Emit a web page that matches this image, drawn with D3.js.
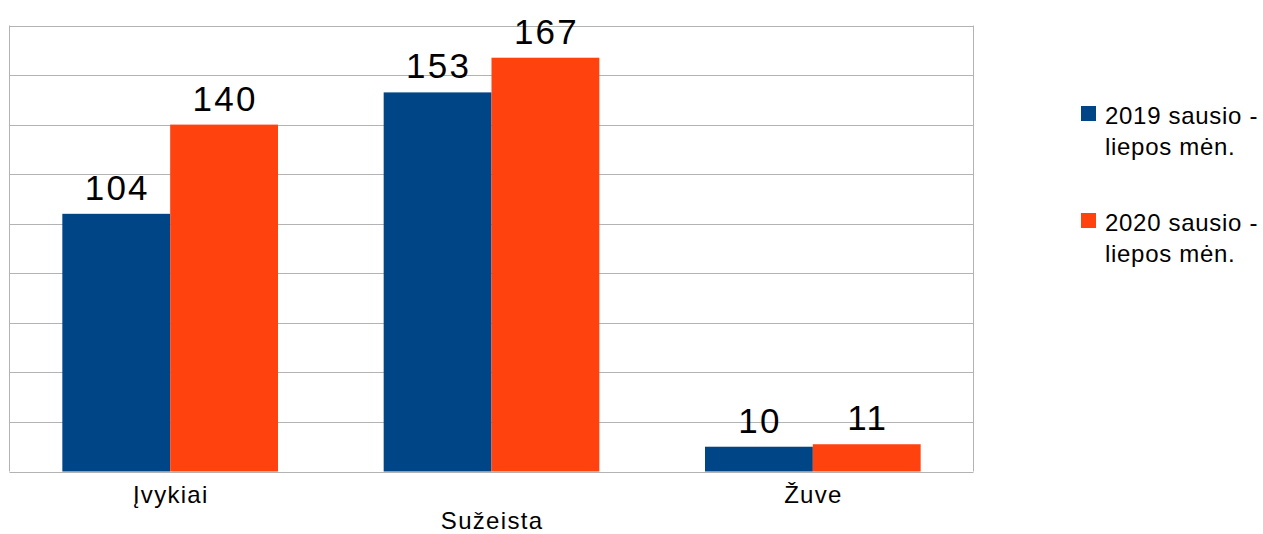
<!DOCTYPE html>
<html lang="lt">
<head>
<meta charset="UTF-8">
<title>Įvykiai 2019–2020</title>
<script src="https://d3js.org/d3.v7.min.js"></script>
<style>
  body { margin: 0; background: #fff; }
  svg { display: block; font-family: "Liberation Sans", Arial, sans-serif; }
</style>
</head>
<body>
<svg width="1263" height="534"></svg>
<script>
// duomenys
const categories = ['Įvykiai', 'Sužeista', 'Žuve'];
const seriesNames = [['2019 sausio -', 'liepos mėn.'], ['2020 sausio -', 'liepos mėn.']];
const values2019 = [104, 153, 10];
const values2020 = [140, 167, 11];
const yTicks = [0, 20, 40, 60, 80, 100, 120, 140, 160, 180];

const colors = ['#004586', '#ff420e'];
const series = [values2019, values2020];

const svg = d3.select('svg');
const plot = { left: 9.5, right: 973.5, top: 25.5, bottom: 471.5 };

const x0 = d3.scaleBand()
    .domain(categories)
    .range([plot.left, plot.right])
    .padding(0);

const x1 = d3.scaleBand()
    .domain([0, 1])
    .range([0, x0.bandwidth()])
    .paddingInner(0)
    .paddingOuter(0.49);

const y = d3.scaleLinear()
    .domain([0, 180])
    .range([plot.bottom, plot.top]);

// grille
svg.append('g')
    .selectAll('line')
    .data(yTicks)
    .enter().append('line')
    .attr('x1', plot.left)
    .attr('x2', plot.right)
    .attr('y1', d => Math.round(y(d)) + 0.5)
    .attr('y2', d => Math.round(y(d)) + 0.5)
    .attr('stroke', '#b3b3b3')
    .attr('stroke-width', 1);

// bordures gauche / droite
svg.append('line')
    .attr('x1', plot.left).attr('x2', plot.left)
    .attr('y1', plot.top).attr('y2', plot.bottom)
    .attr('stroke', '#b3b3b3');
svg.append('line')
    .attr('x1', plot.right).attr('x2', plot.right)
    .attr('y1', plot.top).attr('y2', plot.bottom)
    .attr('stroke', '#b3b3b3');

// barres
const groups = svg.selectAll('.cat')
    .data(categories)
    .enter().append('g')
    .attr('class', 'cat')
    .attr('transform', d => `translate(${x0(d)},0)`);

groups.selectAll('rect')
    .data((d, i) => series.map((s, k) => ({ k, v: s[i] })))
    .enter().append('rect')
    .attr('x', d => x1(d.k))
    .attr('y', d => y(d.v))
    .attr('width', x1.bandwidth())
    .attr('height', d => y(0) - y(d.v))
    .attr('fill', d => colors[d.k]);

groups.selectAll('text.val')
    .data((d, i) => series.map((s, k) => ({ k, v: s[i] })))
    .enter().append('text')
    .attr('class', 'val')
    .attr('x', d => x1(d.k) + x1.bandwidth() / 2 + 1)
    .attr('y', d => y(d.v) - 14)
    .attr('text-anchor', 'middle')
    .attr('font-size', 35)
    .attr('letter-spacing', 2.2)
    .attr('fill', '#000')
    .text(d => d.v);

// axe x (étiquettes décalées)
svg.append('g')
    .selectAll('text')
    .data(categories)
    .enter().append('text')
    .attr('x', d => x0(d) + x0.bandwidth() / 2 + 0.6)
    .attr('y', (d, i) => i % 2 ? 529 : 503)
    .attr('text-anchor', 'middle')
    .attr('font-size', 24)
    .attr('letter-spacing', 1.3)
    .attr('fill', '#000')
    .text(d => d);

// légende
const legend = svg.append('g')
    .selectAll('g')
    .data(seriesNames)
    .enter().append('g')
    .attr('transform', (d, i) => `translate(1081,${106 + i * 107})`);

legend.append('rect')
    .attr('width', 15)
    .attr('height', 15)
    .attr('fill', (d, i) => colors[i]);

legend.append('text')
    .attr('x', 24)
    .attr('y', 18)
    .attr('font-size', 24)
    .attr('letter-spacing', 0.7)
    .attr('fill', '#000')
    .selectAll('tspan')
    .data(d => d)
    .enter().append('tspan')
    .attr('x', 24)
    .attr('dy', (d, i) => i ? 31 : 0)
    .text(d => d);
</script>
</body>
</html>
